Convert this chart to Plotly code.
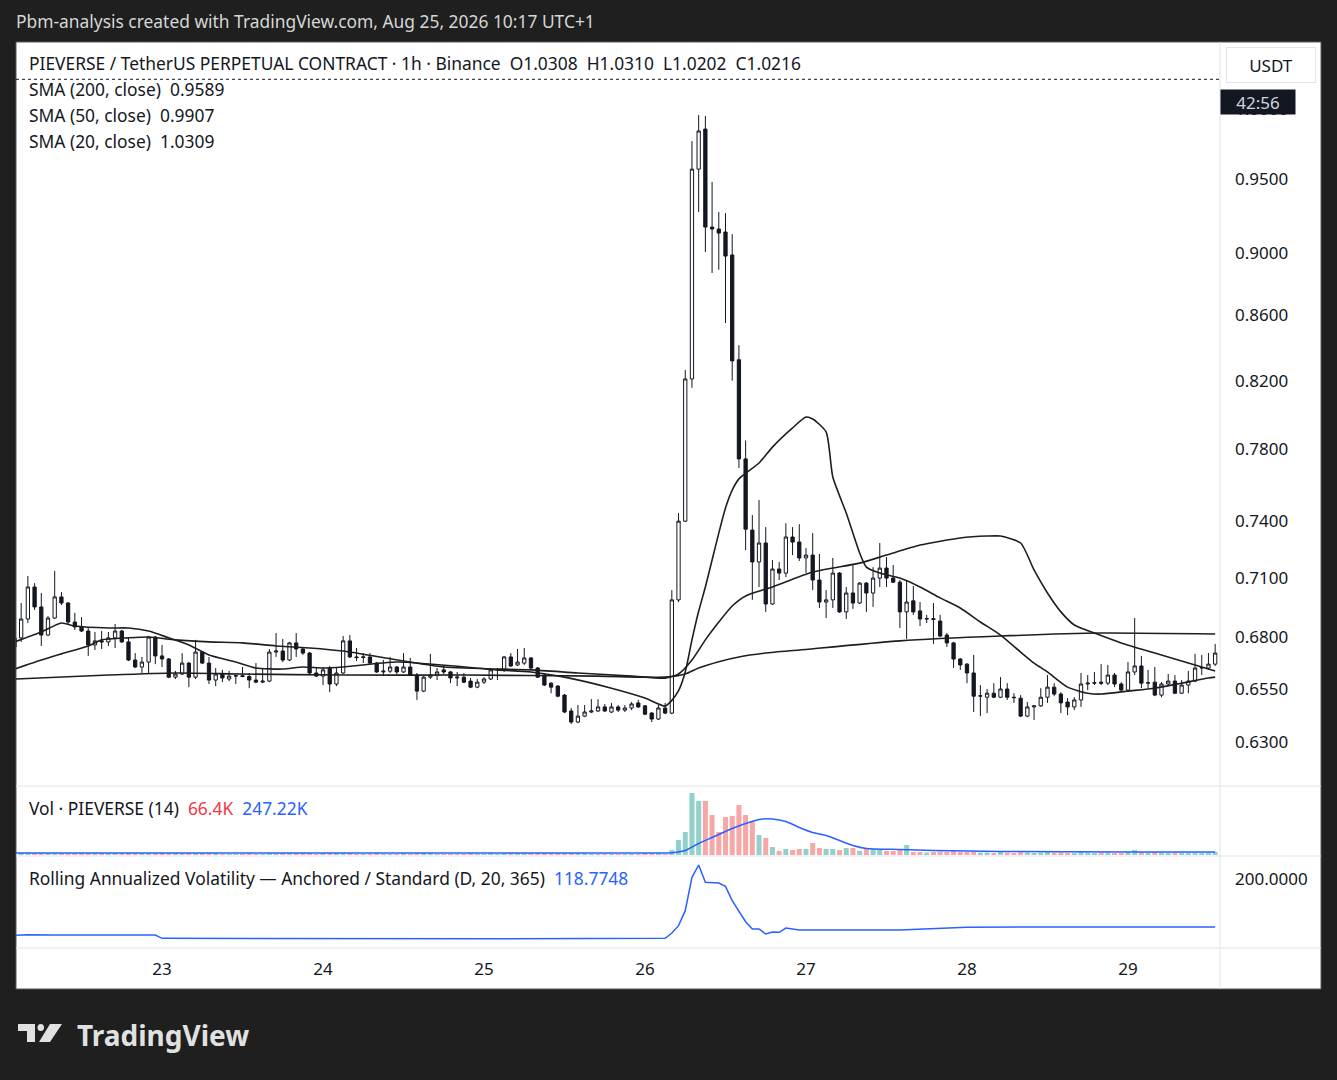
import pandas as pd
import plotly.graph_objects as go
from plotly.subplots import make_subplots

W, H = 1337, 1080

# hourly candles, first one at 22nd 02:00 (hour -22 counted from the 23rd 00:00)
day0 = pd.Timestamp('2026-08-23 00:00')
first_hour = -22

open_ = [
    0.6752, 0.6797, 0.6891, 0.7054, 0.6952, 0.6811, 0.6896, 0.7003, 0.6972, 0.6876, 0.6851, 0.6831, 0.6762, 0.6782, 0.6777, 0.6797, 0.6831, 0.6777, 0.6688, 0.6654, 0.6678, 0.6801,
    0.6708, 0.6693, 0.6605, 0.6620, 0.6673, 0.6605, 0.6727, 0.6673, 0.6591, 0.6620, 0.6596, 0.6610, 0.6612, 0.6608, 0.6591, 0.6581, 0.6586, 0.6727, 0.6732, 0.6688, 0.6772, 0.6742, 0.6722, 0.6625,
    0.6610, 0.6649, 0.6572, 0.6625, 0.6782, 0.6703, 0.6700, 0.6703, 0.6673, 0.6630, 0.6634, 0.6654, 0.6630, 0.6654, 0.6615, 0.6538, 0.6605, 0.6615, 0.6640, 0.6630, 0.6601, 0.6605, 0.6586, 0.6557,
    0.6581, 0.6596, 0.6640, 0.6640, 0.6703, 0.6664, 0.6673, 0.6698, 0.6649, 0.6615, 0.6576, 0.6562, 0.6519, 0.6444, 0.6392, 0.6420, 0.6439, 0.6444, 0.6463, 0.6439, 0.6463, 0.6448, 0.6458, 0.6482,
    0.6468, 0.6434, 0.6406, 0.6458, 0.6434, 0.6988, 0.7401, 0.8210, 0.9568, 0.9852, 0.9172, 0.9159, 0.9139, 0.8987, 0.8326, 0.7745, 0.7353, 0.7184, 0.7284, 0.6967, 0.7147, 0.7126, 0.7316, 0.7289,
    0.7205, 0.7220, 0.7090, 0.6977, 0.6988, 0.7126, 0.6927, 0.7023, 0.6972, 0.7074, 0.7023, 0.7100, 0.7152, 0.7100, 0.7079, 0.6927, 0.6983, 0.6932, 0.6891, 0.6893, 0.6881, 0.6811, 0.6772, 0.6693,
    0.6668, 0.6625, 0.6514, 0.6509, 0.6528, 0.6509, 0.6548, 0.6509, 0.6504, 0.6420, 0.6463, 0.6468, 0.6509, 0.6557, 0.6524, 0.6486, 0.6463, 0.6496, 0.6572, 0.6576, 0.6581, 0.6576, 0.6615, 0.6572,
    0.6543, 0.6630, 0.6659, 0.6576, 0.6581, 0.6519, 0.6572, 0.6586, 0.6528, 0.6567, 0.6586, 0.6649, 0.6649, 0.6668,
]
high = [
    0.6836, 0.6972, 0.7111, 0.7074, 0.7023, 0.6906, 0.7137, 0.7028, 0.6977, 0.6922, 0.6901, 0.6846, 0.6826, 0.6831, 0.6826, 0.6866, 0.6836, 0.6801, 0.6722, 0.6703, 0.6806, 0.6806,
    0.6762, 0.6698, 0.6635, 0.6722, 0.6678, 0.6787, 0.6732, 0.6703, 0.6649, 0.6640, 0.6635, 0.6615, 0.6654, 0.6625, 0.6673, 0.6649, 0.6742, 0.6821, 0.6791, 0.6777, 0.6821, 0.6752, 0.6727, 0.6654,
    0.6654, 0.6659, 0.6649, 0.6806, 0.6811, 0.6747, 0.6722, 0.6722, 0.6678, 0.6688, 0.6703, 0.6659, 0.6722, 0.6698, 0.6625, 0.6610, 0.6718, 0.6649, 0.6664, 0.6635, 0.6630, 0.6625, 0.6601, 0.6596,
    0.6605, 0.6649, 0.6649, 0.6708, 0.6722, 0.6742, 0.6747, 0.6703, 0.6654, 0.6625, 0.6581, 0.6567, 0.6524, 0.6458, 0.6472, 0.6472, 0.6500, 0.6500, 0.6477, 0.6482, 0.6472, 0.6472, 0.6486, 0.6496,
    0.6472, 0.6439, 0.6472, 0.6482, 0.7038, 0.7445, 0.8264, 0.9766, 0.9953, 0.9946, 0.9479, 0.9273, 0.9266, 0.9125, 0.8415, 0.7850, 0.7434, 0.7516, 0.7369, 0.7194, 0.7184, 0.7390, 0.7369, 0.7385,
    0.7258, 0.7337, 0.7226, 0.7038, 0.7205, 0.7131, 0.7054, 0.7173, 0.7079, 0.7079, 0.7157, 0.7284, 0.7210, 0.7168, 0.7090, 0.7090, 0.7059, 0.6977, 0.6912, 0.6972, 0.6912, 0.6821, 0.6777, 0.6698,
    0.6673, 0.6713, 0.6567, 0.6548, 0.6576, 0.6605, 0.6576, 0.6528, 0.6519, 0.6486, 0.6472, 0.6552, 0.6615, 0.6576, 0.6533, 0.6505, 0.6509, 0.6625, 0.6615, 0.6630, 0.6668, 0.6664, 0.6625, 0.6581,
    0.6678, 0.6896, 0.6708, 0.6640, 0.6654, 0.6581, 0.6620, 0.6615, 0.6591, 0.6635, 0.6718, 0.6713, 0.6722, 0.6767,
]
low = [
    0.6727, 0.6777, 0.6871, 0.6937, 0.6757, 0.6806, 0.6891, 0.6962, 0.6866, 0.6836, 0.6826, 0.6708, 0.6737, 0.6742, 0.6757, 0.6747, 0.6772, 0.6683, 0.6649, 0.6625, 0.6620, 0.6668,
    0.6654, 0.6601, 0.6596, 0.6615, 0.6557, 0.6596, 0.6668, 0.6572, 0.6562, 0.6581, 0.6586, 0.6572, 0.6605, 0.6552, 0.6576, 0.6576, 0.6581, 0.6703, 0.6678, 0.6683, 0.6703, 0.6713, 0.6620, 0.6605,
    0.6567, 0.6533, 0.6562, 0.6620, 0.6698, 0.6683, 0.6673, 0.6668, 0.6625, 0.6610, 0.6625, 0.6620, 0.6625, 0.6610, 0.6496, 0.6533, 0.6596, 0.6591, 0.6620, 0.6576, 0.6562, 0.6576, 0.6552, 0.6552,
    0.6572, 0.6591, 0.6591, 0.6630, 0.6654, 0.6659, 0.6664, 0.6644, 0.6601, 0.6562, 0.6528, 0.6509, 0.6434, 0.6383, 0.6387, 0.6415, 0.6434, 0.6439, 0.6439, 0.6434, 0.6439, 0.6439, 0.6448, 0.6458,
    0.6424, 0.6392, 0.6402, 0.6429, 0.6429, 0.6977, 0.7396, 0.8157, 0.9273, 0.9007, 0.8870, 0.8891, 0.8552, 0.8199, 0.7694, 0.7247, 0.6988, 0.7054, 0.6927, 0.6962, 0.7090, 0.7105, 0.7220, 0.7189,
    0.7126, 0.7038, 0.6947, 0.6896, 0.6947, 0.6922, 0.6891, 0.6942, 0.6967, 0.6927, 0.6952, 0.7054, 0.7054, 0.7074, 0.6846, 0.6792, 0.6912, 0.6856, 0.6871, 0.6767, 0.6801, 0.6752, 0.6649, 0.6640,
    0.6576, 0.6439, 0.6420, 0.6434, 0.6505, 0.6505, 0.6496, 0.6482, 0.6415, 0.6415, 0.6402, 0.6463, 0.6482, 0.6514, 0.6434, 0.6424, 0.6448, 0.6463, 0.6543, 0.6567, 0.6567, 0.6567, 0.6557, 0.6538,
    0.6538, 0.6615, 0.6552, 0.6552, 0.6514, 0.6509, 0.6562, 0.6524, 0.6524, 0.6528, 0.6581, 0.6615, 0.6640, 0.6659,
]
close = [
    0.6797, 0.6891, 0.7054, 0.6952, 0.6811, 0.6896, 0.7003, 0.6972, 0.6876, 0.6851, 0.6831, 0.6762, 0.6782, 0.6777, 0.6797, 0.6831, 0.6777, 0.6688, 0.6654, 0.6678, 0.6801, 0.6708,
    0.6693, 0.6605, 0.6620, 0.6673, 0.6605, 0.6727, 0.6673, 0.6591, 0.6620, 0.6601, 0.6610, 0.6612, 0.6608, 0.6591, 0.6581, 0.6586, 0.6727, 0.6732, 0.6688, 0.6772, 0.6742, 0.6722, 0.6625, 0.6610,
    0.6640, 0.6572, 0.6625, 0.6782, 0.6703, 0.6700, 0.6703, 0.6673, 0.6630, 0.6634, 0.6654, 0.6630, 0.6654, 0.6615, 0.6538, 0.6605, 0.6615, 0.6630, 0.6630, 0.6601, 0.6605, 0.6581, 0.6557, 0.6581,
    0.6596, 0.6640, 0.6642, 0.6703, 0.6659, 0.6678, 0.6698, 0.6649, 0.6605, 0.6567, 0.6557, 0.6514, 0.6439, 0.6392, 0.6420, 0.6439, 0.6444, 0.6463, 0.6444, 0.6463, 0.6448, 0.6458, 0.6477, 0.6463,
    0.6429, 0.6406, 0.6458, 0.6434, 0.6988, 0.7401, 0.8210, 0.9568, 0.9838, 0.9172, 0.9159, 0.9132, 0.8980, 0.8319, 0.7745, 0.7358, 0.7184, 0.7284, 0.6967, 0.7147, 0.7126, 0.7316, 0.7289, 0.7205,
    0.7220, 0.7090, 0.6977, 0.6988, 0.7126, 0.6927, 0.7023, 0.6972, 0.7074, 0.7023, 0.7100, 0.7152, 0.7100, 0.7079, 0.6927, 0.6977, 0.6927, 0.6891, 0.6893, 0.6889, 0.6806, 0.6772, 0.6693, 0.6664,
    0.6625, 0.6514, 0.6516, 0.6528, 0.6509, 0.6548, 0.6509, 0.6507, 0.6420, 0.6463, 0.6468, 0.6509, 0.6557, 0.6524, 0.6482, 0.6463, 0.6496, 0.6572, 0.6576, 0.6578, 0.6576, 0.6615, 0.6572, 0.6543,
    0.6630, 0.6659, 0.6576, 0.6578, 0.6519, 0.6572, 0.6586, 0.6528, 0.6567, 0.6586, 0.6649, 0.6651, 0.6668, 0.6722,
]
# volume in thousands
volume = [
    180, 210, 260, 190, 230, 150, 240, 130, 170, 120, 110, 190, 140, 120, 110, 160, 120, 180, 150, 130, 220, 170,
    140, 160, 110, 130, 150, 180, 120, 140, 110, 100, 90, 80, 90, 110, 90, 80, 200, 170, 140, 160, 130, 110, 150, 100,
    120, 150, 110, 210, 170, 100, 90, 100, 110, 90, 100, 90, 110, 100, 180, 120, 110, 90, 80, 100, 90, 90, 110, 90,
    100, 110, 90, 160, 130, 120, 130, 110, 120, 140, 110, 130, 190, 200, 150, 110, 100, 90, 100, 90, 80, 90, 100, 90,
    110, 120, 130, 100, 500, 1500, 2300, 6200, 5400, 5400, 4000, 2300, 3800, 3900, 5000, 4000, 3400, 2000, 1700, 800, 400, 600, 500, 600,
    600, 1200, 700, 600, 600, 500, 700, 700, 400, 600, 600, 600, 400, 400, 600, 1000, 300, 300, 250, 300, 350, 300, 400, 300,
    300, 400, 250, 250, 200, 300, 250, 200, 300, 250, 200, 250, 300, 250, 250, 200, 200, 300, 250, 200, 250, 250, 200, 200,
    300, 500, 300, 250, 300, 250, 200, 250, 250, 200, 250, 200, 250, 300,
]

# moving averages (hour offset from the 23rd, value)
sma20_hours = [-22, -18, -15, -13, -8, -5, -2, 1, 4, 7, 11, 14, 18, 21, 24, 27, 35, 50, 55, 60,
               67, 72, 75, 76, 77, 78, 79, 80, 81, 82, 83, 84, 85, 86, 89, 91, 94, 96, 97, 99,
               100, 102, 104, 105, 107, 110, 113, 116, 119, 122, 125, 128, 130, 132, 135, 138, 140, 144, 148, 152,
               156, 157]
sma20 = [0.6777, 0.6826, 0.6871, 0.6856, 0.6846, 0.6846, 0.6831, 0.6797, 0.6762, 0.6713, 0.6678, 0.6649, 0.6644, 0.6654, 0.6649, 0.6654, 0.6678, 0.6640, 0.6630, 0.6605,
         0.6552, 0.6505, 0.6467, 0.6494, 0.6540, 0.6630, 0.6787, 0.6930, 0.7054, 0.7194, 0.7337, 0.7472, 0.7570, 0.7633, 0.7722, 0.7812, 0.7922, 0.7985, 0.7974, 0.7899,
         0.7643, 0.7445, 0.7231, 0.7157, 0.7126, 0.7100, 0.7054, 0.6998, 0.6947, 0.6876, 0.6811, 0.6727, 0.6673, 0.6630, 0.6557, 0.6528, 0.6524, 0.6538, 0.6552, 0.6576,
         0.6601, 0.6605]
sma50_hours = [-22, -18, -15, -11, -9, -5, -2, 2, 7, 12, 17, 22, 27, 42, 55, 62, 70, 75, 77, 79,
               81, 83, 85, 87, 91, 97, 104, 108, 113, 119, 123, 125, 128, 130, 132, 134, 136, 139, 143, 148,
               153, 157]
sma50 = [0.6644, 0.6688, 0.6718, 0.6757, 0.6787, 0.6797, 0.6801, 0.6787, 0.6777, 0.6772, 0.6757, 0.6747, 0.6732, 0.6654, 0.6640, 0.6625, 0.6610, 0.6600, 0.6620, 0.6688,
         0.6787, 0.6876, 0.6957, 0.7008, 0.7054, 0.7131, 0.7178, 0.7220, 0.7273, 0.7311, 0.7321, 0.7321, 0.7284, 0.7142, 0.7023, 0.6927, 0.6861, 0.6821, 0.6772, 0.6722,
         0.6673, 0.6635]
sma200_hours = [-22, -8, 2, 12, 27, 45, 65, 75, 78, 80, 83, 86, 90, 95, 110, 125, 140, 157]
sma200 = [0.6596, 0.6615, 0.6625, 0.6620, 0.6615, 0.6615, 0.6610, 0.6605, 0.6620, 0.6649, 0.6680, 0.6703, 0.6722, 0.6737, 0.6782, 0.6806, 0.6821, 0.6816]

volma_hours = [-22, 75, 76, 78, 80, 82, 85, 87, 89, 91, 93, 95, 97, 99, 101, 103, 105, 110, 115, 125, 145, 157]
volma = [200, 200, 230, 450, 1150, 1750, 2650, 3150, 3550, 3600, 3350, 2750, 2250, 1950, 1450, 950, 650, 550, 450, 350, 300, 300]

vola_hours = [-22, -20, -16, -1, 0, 30, 50, 75, 76, 77, 78, 79, 80, 81, 83, 84, 85, 87, 88, 89,
              90, 91, 92, 93, 95, 110, 120, 130, 157]
vola = [31, 33, 32, 32, 22, 21, 21, 22, 38, 60, 105, 205, 242, 190, 188, 178, 135, 72, 50, 50,
        35, 41, 40, 53, 47, 47, 55, 56, 56]

# legend values shown in the header (latest bar)
last_ohlc = [1.0308, 1.0310, 1.0202, 1.0216]
sma_last = {'200': 0.9589, '50': 0.9907, '20': 1.0309}
vol_last = ['66.4K', '247.22K']
vola_last = '118.7748'

price_ticks = [0.63, 0.655, 0.68, 0.71, 0.74, 0.78, 0.82, 0.86, 0.90, 0.95, 1.00]
day_ticks = [23, 24, 25, 26, 27, 28, 29]

x_view = [-21.77, 157.72]  # visible window in hours
log_range = [-0.2143, 0.0211]

INK = '#131722'
FONT = 'Noto Sans'
TXT = 17.4


def at(hours):
    return [day0 + pd.Timedelta(hours=h) for h in hours]


def px(x):
    return x / W


def py(y):
    return 1 - y / H


times = at(range(first_hour, first_hour + len(close)))
vol_colors = ['#92d1cb' if c >= o else '#f7a8a6' for o, c in zip(open_, close)]

fig = make_subplots(rows=3, cols=1, shared_xaxes=True, vertical_spacing=0.01)

fig.add_trace(go.Candlestick(
    x=times, open=open_, high=high, low=low, close=close,
    increasing=dict(line=dict(color=INK, width=1), fillcolor='#ffffff'),
    decreasing=dict(line=dict(color=INK, width=1), fillcolor=INK),
    whiskerwidth=0, name='PIEVERSE'
), row=1, col=1)

for hrs, vals in [(sma200_hours, sma200), (sma50_hours, sma50), (sma20_hours, sma20)]:
    fig.add_trace(go.Scatter(
        x=at(hrs), y=vals, mode='lines',
        line=dict(color='#1e1e1e', width=1.6, shape='spline', smoothing=0.6),
        hoverinfo='skip'
    ), row=1, col=1)

# dotted last price line
fig.add_trace(go.Scatter(
    x=at(x_view), y=[last_ohlc[3]] * 2, mode='lines',
    line=dict(color=INK, width=1, dash='dot'), hoverinfo='skip'
), row=1, col=1)

fig.add_trace(go.Bar(x=times, y=volume, marker=dict(color=vol_colors, line=dict(width=0))), row=2, col=1)
fig.add_trace(go.Scatter(
    x=at(volma_hours), y=volma, mode='lines',
    line=dict(color='#2962ff', width=1.5, shape='spline', smoothing=0.6)
), row=2, col=1)

fig.add_trace(go.Scatter(
    x=at(vola_hours), y=vola, mode='lines',
    line=dict(color='#2962ff', width=1.5)
), row=3, col=1)

xdom = [px(16), px(1220)]
axis_font = dict(family=FONT, size=17, color=INK)
fig.update_xaxes(
    domain=xdom, range=at(x_view), showgrid=False, zeroline=False, showline=False,
    tickvals=at([(d - 23) * 24 for d in day_ticks]), ticktext=[str(d) for d in day_ticks],
    tickfont=axis_font, ticks='', rangeslider_visible=False
)
fig.update_xaxes(showticklabels=False, row=1, col=1)
fig.update_xaxes(showticklabels=False, row=2, col=1)
fig.update_xaxes(showticklabels=True, ticklabelstandoff=9, row=3, col=1)

fig.update_yaxes(side='right', showgrid=False, zeroline=False, showline=False, ticks='',
                 tickfont=axis_font, ticklabelstandoff=14)
fig.update_yaxes(type='log', range=log_range, domain=[py(785), py(42)],
                 tickvals=price_ticks, ticktext=[f'{v:.4f}' for v in price_ticks], row=1, col=1)
fig.update_yaxes(range=[0, 6800], domain=[py(855), py(787)], showticklabels=False, row=2, col=1)
fig.update_yaxes(range=[-7, 266], domain=[py(948), py(857)],
                 tickvals=[200], ticktext=['200.0000'], row=3, col=1)

sep = '#e0e3eb'
shapes = [
    dict(type='rect', xref='paper', yref='paper', x0=px(16), x1=px(1321), y0=py(989), y1=py(42),
         fillcolor='#ffffff', line=dict(color='#5a5a5a', width=1), layer='below'),
    dict(type='line', xref='paper', yref='paper', x0=px(1220), x1=px(1220), y0=py(989), y1=py(42),
         line=dict(color=sep, width=1)),
]
for yy in [786, 856, 948]:
    shapes.append(dict(type='line', xref='paper', yref='paper', x0=px(16), x1=px(1321), y0=py(yy), y1=py(yy),
                       line=dict(color=sep, width=1)))
# TradingView logo mark
logo = '#e1e1e1'
shapes += [
    dict(type='rect', xref='paper', yref='paper', x0=px(18), x1=px(35), y0=py(1031), y1=py(1024),
         fillcolor=logo, line=dict(width=0)),
    dict(type='rect', xref='paper', yref='paper', x0=px(27), x1=px(35), y0=py(1042), y1=py(1024),
         fillcolor=logo, line=dict(width=0)),
    dict(type='circle', xref='paper', yref='paper', x0=px(37.5), x1=px(44), y0=py(1031), y1=py(1024),
         fillcolor=logo, line=dict(width=0)),
    dict(type='path', xref='paper', yref='paper',
         path=f'M {px(50)} {py(1024)} L {px(62)} {py(1024)} L {px(50)} {py(1042)} L {px(39)} {py(1042)} Z',
         fillcolor=logo, line=dict(width=0)),
]


def label(x, y, text, size=TXT, color=INK, anchor='left', **kw):
    return dict(xref='paper', yref='paper', x=px(x), y=py(y), text=text, showarrow=False,
                xanchor=anchor, yanchor='middle', font=dict(family=FONT, size=size, color=color), **kw)


sp = '\u00a0\u00a0'
o, h, l, c = last_ohlc
annotations = [
    label(14, 21, 'Pbm-analysis created with TradingView.com, Aug 25, 2026 10:17 UTC+1', color='#d6d6d6'),
    label(27, 63, f'PIEVERSE / TetherUS PERPETUAL CONTRACT · 1h · Binance{sp}O{o:.4f}{sp}H{h:.4f}{sp}L{l:.4f}{sp}C{c:.4f}'),
    label(27, 89, f'SMA (200, close){sp}{sma_last["200"]:.4f}'),
    label(27, 115, f'SMA (50, close){sp}{sma_last["50"]:.4f}'),
    label(27, 141, f'SMA (20, close){sp}{sma_last["20"]:.4f}'),
    label(27, 808, f'Vol · PIEVERSE (14){sp}<span style="color:#f23645">{vol_last[0]}</span>'
                   f'{sp}<span style="color:#2962ff">{vol_last[1]}</span>'),
    label(27, 878, f'Rolling Annualized Volatility — Anchored / Standard (D, 20, 365){sp}'
                   f'<span style="color:#2962ff">{vola_last}</span>'),
    label(1271, 65, 'USDT', size=17, anchor='center', bgcolor='#ffffff', bordercolor='#e0e3eb',
          borderwidth=1, width=86, height=32),
    label(1258, 102, '42:56', size=17, anchor='center', color='#d1d4dc', bgcolor=INK, width=72, height=22),
    label(75, 1035, '<b>TradingView</b>', size=28, color=logo),
]

fig.update_layout(
    width=W, height=H, margin=dict(l=0, r=0, t=0, b=0),
    paper_bgcolor='#1f1f1f', plot_bgcolor='#ffffff',
    showlegend=False, bargap=0.25, hovermode='x',
    shapes=shapes, annotations=annotations,
    font=dict(family=FONT, color=INK)
)

# drop the browser's default page margin so the figure sits at the top-left corner
fig.write_html('out.html', config={'displayModeBar': False},
               post_script="document.body.style.margin='0';document.body.style.background='#1f1f1f';")
